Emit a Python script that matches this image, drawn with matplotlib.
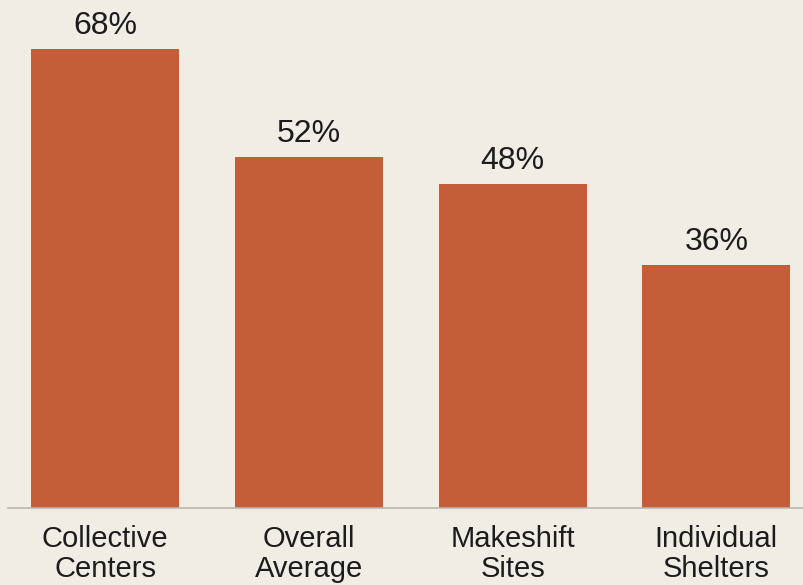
import matplotlib.pyplot as plt

categories = ['Collective\nCenters', 'Overall\nAverage', 'Makeshift\nSites', 'Individual\nShelters']
values = [68, 52, 48, 36]
labels = ['68%', '52%', '48%', '36%']

bg = '#F0EDE4'
bar_color = '#C45E38'
text_color = '#1c1c1c'

plt.rcParams['font.family'] = ['Liberation Sans', 'DejaVu Sans']

fig = plt.figure(figsize=(8.04, 5.85), dpi=100, facecolor=bg)
ax = fig.add_axes([8 / 804, 77 / 585, 796 / 804, 508 / 585])
ax.set_facecolor(bg)

x = range(len(values))
bars = ax.bar(x, values, width=0.726, color=bar_color, zorder=2)

for b, lab in zip(bars, labels):
    ax.annotate(lab, (b.get_x() + b.get_width() / 2, b.get_height()),
                xytext=(0, 6), textcoords='offset points',
                ha='center', va='bottom', fontsize=23, color=text_color)

ax.set_xlim(-0.476, 3.43)
ax.set_ylim(0, 75.3)
ax.set_xticks(list(x))
ax.set_xticklabels(categories, fontsize=21, color=text_color, linespacing=1.12)
ax.tick_params(axis='x', length=0, pad=12)
ax.set_yticks([])

for s in ['top', 'right', 'left']:
    ax.spines[s].set_visible(False)
ax.spines['bottom'].set_color('#b8b6b0')
ax.spines['bottom'].set_linewidth(1.2)

fig.savefig('out.png', dpi=100, facecolor=bg)
